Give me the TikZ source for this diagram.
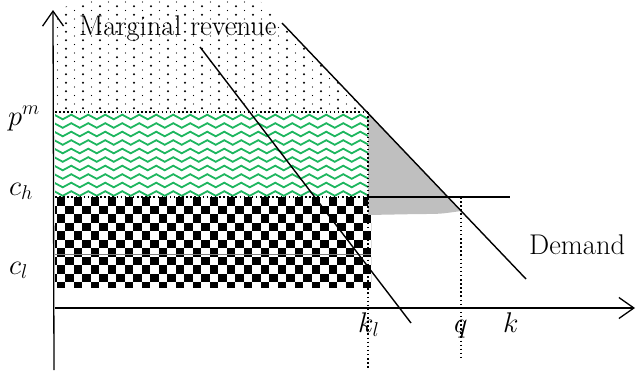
\documentclass[tikz,border=0pt]{standalone}
\usepackage{fix-cm}
\usetikzlibrary{arrows.meta,decorations.pathmorphing}
\definecolor{wavegreen}{RGB}{30,182,95}
\definecolor{areagray}{RGB}{191,191,191}
\tikzset{
  axisline/.style={line width=1.3pt,-{Straight Barb[length=15pt,width=21pt,line width=1.3pt]}},
  curveline/.style={line width=1.4pt},
  guide/.style={line width=1.5pt,dash pattern=on 1.5pt off 2.6pt},
  lbl/.style={inner sep=0pt,anchor=base west,font=\fontsize{28.5}{32}\selectfont},
  wave/.style={wavegreen,line width=1.8pt,decorate,decoration={zigzag,segment length=17pt,amplitude=2.3pt}}
}
\begin{document}
\begin{tikzpicture}[x=1pt,y=-1pt]
\useasboundingbox (0,0) rectangle (636,370);
% key coordinates
\coordinate (D1) at (282,23);
\coordinate (D2) at (526,279);
\coordinate (M1) at (200,47);
\coordinate (M2) at (411,323);
\coordinate (PmL) at (55,112);
\coordinate (PmR) at (367,112);
\coordinate (ChL) at (55,197);
\coordinate (ChK) at (368,197);
\coordinate (ChR) at (510,197);
\coordinate (KlT) at (368,112);
\coordinate (KlB) at (368,370);
\coordinate (QT) at (461,197);
\coordinate (QB) at (461,358);
\coordinate (QD) at (461,211);
\coordinate (GB) at (368,215);
\coordinate (YB) at (54,370);
\coordinate (YT) at (53,10);
\coordinate (XL) at (55,308);
\coordinate (XR) at (635,308);
\coordinate (ClL) at (55,254);
\coordinate (ClR) at (371,254);

% dotted area above p^m
\begin{scope}
  \clip (55,110) -- (55,20) .. controls (58,5) and (80,0) .. (100,0) -- (259,0) -- (365,110) -- cycle;
  \foreach \i in {0,...,18} {
    \foreach \j in {0,...,12} {
      \fill (66+17*\i,108.2-8.5*\j) circle (1.1pt);
      \fill (57.5+17*\i,104-8.5*\j) circle (0.6pt);
    }
  }
\end{scope}

% green wave area
\begin{scope}
  \clip (55,113) rectangle (368,197);
  \foreach \k in {0,...,9} {
    \draw[wave] (50,117+8.5*\k) -- (380,117+8.5*\k);
  }
\end{scope}

% checkerboard area
\begin{scope}
  \clip (55,197) rectangle (371,287);
  \foreach \j in {0,...,10} {
    \pgfmathtruncatemacro\off{1-mod(\j,2)}
    \foreach \i in {0,...,19} {
      \fill (48+8.5*\off+17*\i,197+8.5*\j) rectangle ++(8.5,8.5);
    }
  }
\end{scope}
\draw[gray,line width=0.8pt] (ClL) -- (ClR);

% gray area
\fill[areagray] (KlT) -- (QD) .. controls (440,214) .. (420,214) -- (GB) -- cycle;

% guide lines
\draw[guide] (PmL) -- (PmR);
\draw[guide] (ChL) -- (ChK);
\draw[guide] (KlT) -- (KlB);
\draw[guide] (QT) -- (QB);
\draw[line width=1.3pt] (ChK) -- (ChR);

% axes
\draw[axisline] (YB) -- (YT);
\draw[axisline] (XL) -- (XR);

% curves
\draw[curveline] (D1) -- (D2);
\draw[curveline] (M1) -- (M2);

% labels
\node[lbl] (mr) at (79,35.5) {Marginal revenue};
\node[lbl] (dem) at (529,254) {Demand};
\node[lbl] (pm) at (8,125) {$p^m$};
\node[lbl] (ch) at (9,195) {$c_h$};
\node[lbl] (cl) at (9,274) {$c_l$};
\node[lbl] (kl) at (358,332) {$k_l$};
\node[lbl] (q) at (454,332) {$q$};
\node[lbl] (k) at (503,332) {$k$};
\end{tikzpicture}
\end{document}
